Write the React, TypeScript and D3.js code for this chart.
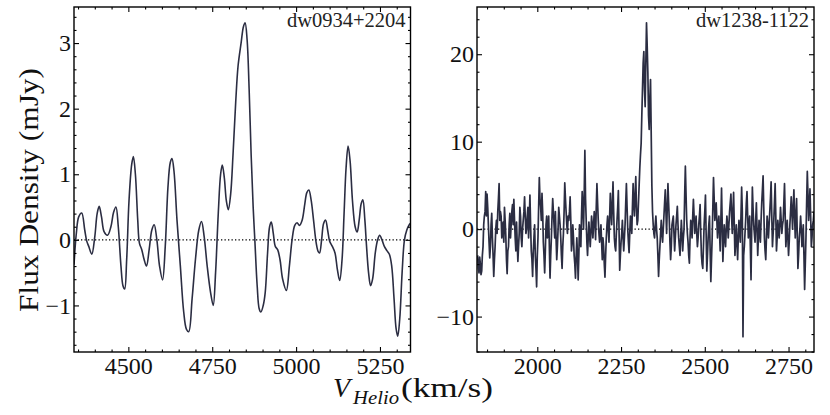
import { useRef, useEffect } from "react";
import * as d3 from "d3";

// dw0934+2204 — smoothed spectrum, [velocity km/s, flux mJy]
const leftSpectrum: [number, number][] = [
  [4338, -0.38], [4345, 0.1], [4352, 0.35], [4361, 0.41], [4370, 0.15], [4376, -0.02],
  [4382, -0.1], [4391, -0.22], [4400, 0.05], [4407, 0.4], [4413, 0.51], [4420, 0.35],
  [4428, 0.12], [4438, 0.07], [4448, 0.2], [4456, 0.42], [4463, 0.5], [4470, 0.2],
  [4478, -0.4], [4484, -0.7], [4489, -0.75], [4495, -0.3], [4502, 0.6], [4510, 1.15],
  [4515, 1.27], [4521, 1.0], [4528, 0.3], [4533, -0.05], [4540, -0.15], [4547, -0.3],
  [4554, -0.4], [4562, -0.15], [4570, 0.15], [4577, 0.23], [4585, 0.0], [4593, -0.4],
  [4602, -0.61], [4610, -0.1], [4618, 0.8], [4625, 1.18], [4630, 1.24], [4636, 1.05],
  [4645, 0.3], [4655, -0.4], [4665, -1.1], [4673, -1.36], [4680, -1.4], [4690, -0.9],
  [4700, -0.3], [4710, 0.15], [4718, 0.28], [4726, 0.05], [4735, -0.4], [4745, -0.8],
  [4753, -1.0], [4760, -0.5], [4768, 0.4], [4775, 1.0], [4780, 1.14], [4786, 0.95],
  [4792, 0.6], [4798, 0.46], [4805, 0.7], [4812, 1.3], [4820, 2.1], [4827, 2.65],
  [4836, 3.0], [4843, 3.25], [4848, 3.31], [4854, 3.05], [4860, 2.3], [4866, 1.3],
  [4872, 0.5], [4877, 0.0], [4884, -0.7], [4890, -1.05], [4895, -1.1], [4902, -1.0],
  [4908, -0.8], [4915, -0.2], [4921, 0.2], [4926, 0.27], [4932, 0.1], [4938, -0.1],
  [4945, -0.15], [4952, -0.3], [4960, -0.6], [4971, -0.77], [4980, -0.4], [4988, 0.0],
  [4996, 0.22], [5003, 0.26], [5010, 0.22], [5018, 0.3], [5026, 0.55], [5032, 0.72],
  [5038, 0.76], [5045, 0.6], [5052, 0.3], [5060, -0.05], [5066, -0.18], [5070, -0.2],
  [5076, 0.0], [5082, 0.25], [5088, 0.3], [5094, 0.15], [5100, -0.02], [5108, -0.1],
  [5116, -0.2], [5123, -0.45], [5130, -0.62], [5137, -0.3], [5143, 0.4], [5149, 1.1],
  [5155, 1.43], [5161, 1.2], [5168, 0.6], [5176, 0.2], [5182, 0.12], [5188, 0.3],
  [5194, 0.55], [5199, 0.61], [5205, 0.3], [5210, -0.1], [5216, -0.5], [5222, -0.7],
  [5228, -0.6], [5236, -0.2], [5243, 0.0], [5249, 0.07], [5256, 0.0], [5263, -0.1],
  [5270, -0.16], [5278, -0.22], [5285, -0.4], [5292, -0.9], [5298, -1.35], [5303, -1.47],
  [5309, -1.2], [5316, -0.5], [5323, 0.0], [5330, 0.15], [5336, 0.22], [5341, 0.25],
];

// dw1238-1122 — raw channels, [velocity km/s, flux mJy]
const rightSpectrum: [number, number][] = [
  [1822, -3.0], [1826, -5.0], [1830, -4.0], [1834, -4.8], [1838, -2.0], [1842, 1.5],
  [1846, 4.3], [1850, 4.0], [1854, 0.5], [1858, -3.3], [1862, 0.5], [1866, -1.0],
  [1870, -5.4], [1874, -2.0], [1878, 1.0], [1882, 2.0], [1886, 5.2], [1890, 2.0],
  [1894, -1.0], [1898, 0.8], [1902, 2.5], [1906, -0.8], [1910, -5.1], [1914, -2.0],
  [1918, 1.8], [1922, 0.5], [1926, 2.8], [1930, 3.4], [1934, -1.0], [1938, 0.8],
  [1942, -3.7], [1946, -0.5], [1950, 1.5], [1954, -2.0], [1958, 1.0], [1962, 3.7],
  [1966, -0.5], [1970, 1.5], [1974, -1.0], [1978, 3.9], [1982, -2.5], [1986, -5.4],
  [1990, -1.0], [1994, -3.0], [1998, -6.6], [2002, -1.0], [2006, 5.9], [2010, 2.5],
  [2014, 4.1], [2018, -1.5], [2022, -5.0], [2026, 0.5], [2030, -1.0], [2034, 1.5],
  [2038, -5.6], [2042, -1.0], [2046, 3.5], [2050, 0.5], [2054, 2.0], [2058, -3.5],
  [2062, 0.0], [2066, 1.5], [2070, -1.0], [2074, -4.5], [2078, -0.5], [2082, 5.3],
  [2086, 2.0], [2090, -0.5], [2094, 1.0], [2098, 3.7], [2102, -2.5], [2106, 0.5],
  [2110, -3.0], [2114, -5.6], [2118, -1.0], [2122, -5.8], [2126, 0.5], [2130, -2.0],
  [2134, 4.3], [2138, 0.0], [2142, 9.0], [2146, 1.0], [2150, -3.0], [2154, 0.8],
  [2158, -2.0], [2162, 1.5], [2166, -1.0], [2170, 2.0], [2174, -1.2], [2178, 5.2],
  [2182, 1.0], [2186, -1.5], [2190, 0.5], [2194, -3.5], [2198, -2.0], [2202, -5.5],
  [2206, -1.0], [2210, 1.5], [2214, -1.5], [2218, 4.1], [2222, 0.5], [2226, 5.4],
  [2230, -1.0], [2234, -2.5], [2238, 1.0], [2242, 4.4], [2246, -4.7], [2250, -1.5],
  [2254, 1.0], [2258, -2.5], [2262, 0.5], [2266, 5.2], [2270, 0.0], [2274, -2.7],
  [2278, 1.5], [2282, -0.5], [2286, 5.2], [2290, 1.5], [2294, 6.0], [2298, 0.5],
  [2302, 3.0], [2306, 7.0], [2310, 9.8], [2314, 16.0], [2318, 20.3], [2322, 14.0],
  [2326, 23.6], [2330, 18.0], [2334, 11.4], [2338, 17.1], [2342, 5.0], [2346, 0.5],
  [2350, -1.0], [2354, 1.5], [2358, -1.0], [2362, -5.4], [2366, -2.0], [2370, 1.0],
  [2374, -1.5], [2378, 1.5], [2382, 4.5], [2386, -0.5], [2390, 5.2], [2394, 1.0],
  [2398, -3.5], [2402, 0.5], [2406, 1.5], [2410, -2.5], [2414, 0.5], [2418, 2.6],
  [2422, -1.0], [2426, -3.0], [2430, 1.0], [2434, -2.5], [2438, 0.0], [2442, 7.2],
  [2446, 1.0], [2450, -1.5], [2454, -3.9], [2458, 1.0], [2462, -1.0], [2466, 3.4],
  [2470, -0.5], [2474, 1.5], [2478, -2.0], [2482, 0.5], [2486, 2.8], [2490, -3.0],
  [2494, -4.5], [2498, 0.5], [2502, 3.9], [2506, -4.8], [2510, -1.0], [2514, 1.5],
  [2518, -6.0], [2522, -1.0], [2526, 5.9], [2530, 1.0], [2534, 3.0], [2538, -1.0],
  [2542, 1.5], [2546, -2.5], [2550, 4.7], [2554, -3.7], [2558, 0.5], [2562, -2.0],
  [2566, 1.5], [2570, -1.0], [2574, 2.0], [2578, 4.0], [2582, -0.5], [2586, 4.2],
  [2590, -3.0], [2594, 0.5], [2598, -3.5], [2602, 1.0], [2606, -1.5], [2610, 4.8],
  [2614, -12.3], [2618, -2.0], [2622, 1.0], [2626, 4.3], [2630, -1.0], [2634, 1.5],
  [2638, -5.8], [2642, 4.8], [2646, 0.5], [2650, -1.5], [2654, 3.0], [2658, -3.0],
  [2662, 1.0], [2666, -1.5], [2670, 3.0], [2674, 6.1], [2678, -1.0], [2682, -3.5],
  [2686, 1.5], [2690, -1.0], [2694, 2.0], [2698, 5.4], [2702, -2.0], [2706, 1.0],
  [2710, 5.2], [2714, -2.5], [2718, 1.0], [2722, -1.0], [2726, 2.5], [2730, -0.5],
  [2734, 1.0], [2738, 5.2], [2742, -2.0], [2746, 1.0], [2750, -3.0], [2754, 0.5],
  [2758, 3.7], [2762, 0.0], [2766, 4.5], [2770, -1.0], [2774, 3.5], [2778, -4.5],
  [2782, -1.0], [2786, 1.5], [2790, -2.0], [2794, 0.5], [2798, -6.9], [2802, -1.0],
  [2806, 6.6], [2810, 1.0], [2814, 4.6], [2818, -2.0], [2822, 0.5], [2826, 2.0],
];

// dw1238-1122 — in-between channels
const rightSpectrumMid: [number, number][] = [
  [1824, -4.5], [1828, -3.2], [1832, -5.2], [1836, -3.0], [1840, 0.5], [1844, 2.0],
  [1848, 1.5], [1852, 2.5], [1856, -1.5], [1860, -2.0], [1864, 1.8], [1868, -3.0],
  [1872, -3.5], [1876, 0.0], [1880, -0.5], [1884, 3.5], [1888, 1.0], [1892, 1.5],
  [1896, 0.0], [1900, -1.5], [1904, 1.0], [1908, -3.5], [1912, -2.5], [1916, 0.5],
  [1920, -1.0], [1924, 2.0], [1928, 0.5], [1932, 1.0], [1936, -2.5], [1940, -1.5],
  [1944, -2.0], [1948, 2.5], [1952, -1.0], [1956, 0.0], [1960, 2.0], [1964, 1.5],
  [1968, 0.0], [1972, 2.5], [1976, 1.0], [1980, 0.5], [1984, -3.5], [1988, -2.5],
  [1992, 0.5], [1996, -4.5], [2000, -3.0], [2004, 2.5], [2008, 3.5], [2012, 1.0],
  [2016, 2.0], [2020, -3.0], [2024, -2.5], [2028, 1.5], [2032, -0.5], [2036, -2.0],
  [2040, -3.0], [2044, 1.5], [2048, 2.0], [2052, -1.0], [2056, -1.0], [2060, -2.0],
  [2064, 2.5], [2068, 0.5], [2072, -3.0], [2076, -2.0], [2080, 2.0], [2084, 3.5],
  [2088, 0.5], [2092, 1.5], [2096, 2.0], [2100, 1.0], [2104, -1.5], [2108, -1.0],
  [2112, -4.0], [2116, -3.0], [2120, -3.0], [2124, -3.0], [2128, -1.0], [2132, 1.5],
  [2136, 2.5], [2140, 4.0], [2144, 3.5], [2148, -1.5], [2152, -1.0], [2156, -0.5],
  [2160, -0.5], [2164, 0.5], [2168, 0.5], [2172, 1.0], [2176, 2.5], [2180, 3.0],
  [2184, -0.5], [2188, -0.5], [2192, -1.5], [2196, -1.0], [2200, -4.0], [2204, -3.0],
  [2208, 0.5], [2212, 0.0], [2216, 1.5], [2220, 2.0], [2224, 3.0], [2228, 2.0],
  [2232, -2.0], [2236, -0.5], [2240, 2.5], [2244, 0.0], [2248, -3.0], [2252, -0.5],
  [2256, -1.0], [2260, -1.0], [2264, 3.0], [2268, 2.5], [2272, -1.5], [2276, -0.5],
  [2280, 1.0], [2284, 2.5], [2288, 3.0], [2292, 4.0], [2296, 2.5], [2300, 1.0],
  [2304, 5.0], [2308, 8.5], [2312, 13.0], [2316, 19.0], [2320, 16.0], [2324, 19.0],
  [2328, 21.0], [2332, 13.0], [2336, 15.0], [2340, 11.0], [2344, 2.0], [2348, -0.5],
  [2352, 0.5], [2356, 0.0], [2360, -3.0], [2364, -3.5], [2368, -0.5], [2372, -0.5],
  [2376, 0.0], [2380, 3.0], [2384, 2.0], [2388, 2.5], [2392, 3.0], [2396, -1.5],
  [2400, -2.0], [2404, 1.0], [2408, -0.5], [2412, -1.0], [2416, 1.5], [2420, 0.5],
  [2424, -2.0], [2428, -1.0], [2432, -0.5], [2436, -1.0], [2440, 4.0], [2444, 4.0],
  [2448, -0.5], [2452, -3.0], [2456, -1.0], [2460, 0.5], [2464, 1.5], [2468, 1.5],
  [2472, 0.5], [2476, -0.5], [2480, -1.0], [2484, 1.5], [2488, -0.5], [2492, -4.0],
  [2496, -2.0], [2500, 2.0], [2504, -0.5], [2508, -3.0], [2512, 0.5], [2516, -2.5],
  [2520, -3.5], [2524, 2.5], [2528, 3.5], [2532, 2.0], [2536, 1.0], [2540, 0.5],
  [2544, -0.5], [2548, 1.0], [2552, 0.5], [2556, -1.5], [2560, -1.0], [2564, 0.0],
  [2568, 0.5], [2572, 0.5], [2576, 3.0], [2580, 1.5], [2584, 2.0], [2588, 0.5],
  [2592, -1.5], [2596, -1.5], [2600, -1.0], [2604, 0.0], [2608, 1.5], [2612, 2.0],
  [2616, -3.0], [2620, -0.5], [2624, 3.0], [2628, 1.5], [2632, 0.5], [2636, -2.0],
  [2640, 0.0], [2644, 2.5], [2648, -0.5], [2652, 1.0], [2656, 0.0], [2660, -1.0],
  [2664, -0.5], [2668, 1.0], [2672, 4.5], [2676, 2.5], [2680, -2.5], [2684, -1.0],
  [2688, 0.5], [2692, 0.5], [2696, 3.5], [2700, 1.5], [2704, -0.5], [2708, 3.0],
  [2712, 1.5], [2716, -1.0], [2720, 0.0], [2724, 0.5], [2728, 1.0], [2732, 0.5],
  [2736, 3.0], [2740, 1.5], [2744, -0.5], [2748, -1.0], [2752, -1.5], [2756, 2.0],
  [2760, 2.0], [2764, 2.5], [2768, 1.5], [2772, 1.5], [2776, -0.5], [2780, -3.0],
  [2784, 0.0], [2788, 0.0], [2792, -1.0], [2796, -3.0], [2800, -4.0], [2804, 3.0],
  [2808, 4.0], [2812, 2.5], [2816, 1.5], [2820, -1.0], [2824, 1.0],
];

const leftXTicks = [4500, 4750, 5000, 5250];
const leftYTicks = [-1, 0, 1, 2, 3];
const rightXTicks = [2000, 2250, 2500, 2750];
const rightYTicks = [-10, 0, 10, 20];

const LINE = "#2b2d42";
const FONT = "'Liberation Serif'";

type Panel = {
  name: string;
  data: [number, number][];
  xDomain: [number, number];
  yDomain: [number, number];
  xTicks: number[];
  yTicks: number[];
  xMinorStep: number;
  yMinorStep: number;
  left: number;
  right: number;
  smooth: boolean;
};

const panels: Panel[] = [
  {
    name: "dw0934+2204",
    data: leftSpectrum,
    xDomain: [4338, 5341],
    yDomain: [-1.71, 3.55],
    xTicks: leftXTicks,
    yTicks: leftYTicks,
    xMinorStep: 50,
    yMinorStep: 0.2,
    left: 74,
    right: 410.5,
    smooth: true,
  },
  {
    name: "dw1238-1122",
    data: [...rightSpectrum, ...rightSpectrumMid].sort((a, b) => a[0] - b[0]),
    xDomain: [1820, 2826],
    yDomain: [-14.05, 25.4],
    xTicks: rightXTicks,
    yTicks: rightYTicks,
    xMinorStep: 50,
    yMinorStep: 2,
    left: 477,
    right: 814,
    smooth: false,
  },
];

const TOP = 7;
const BOTTOM = 352;

export default function App() {
  const svgRef = useRef<SVGSVGElement>(null);

  useEffect(() => {
    const svg = d3.select(svgRef.current);
    svg.selectAll("*").remove();

    panels.forEach((p) => {
      const x = d3.scaleLinear().domain(p.xDomain).range([p.left, p.right]);
      const y = d3.scaleLinear().domain(p.yDomain).range([BOTTOM, TOP]);

      const clipId = `clip-${p.name.replace(/[^a-z0-9]/gi, "")}`;
      svg
        .append("clipPath")
        .attr("id", clipId)
        .append("rect")
        .attr("x", p.left)
        .attr("y", TOP)
        .attr("width", p.right - p.left)
        .attr("height", BOTTOM - TOP);

      // zero line
      svg
        .append("line")
        .attr("x1", p.left)
        .attr("x2", p.right)
        .attr("y1", y(0))
        .attr("y2", y(0))
        .attr("stroke", "#000")
        .attr("stroke-width", 1.2)
        .attr("stroke-dasharray", "1.3,2.2");

      const line = d3
        .line<[number, number]>()
        .x((d) => x(d[0]))
        .y((d) => y(d[1]))
        .curve(p.smooth ? d3.curveCatmullRom.alpha(0.5) : d3.curveLinear);

      svg
        .append("path")
        .datum(p.data)
        .attr("clip-path", `url(#${clipId})`)
        .attr("d", line)
        .attr("fill", "none")
        .attr("stroke", LINE)
        .attr("stroke-width", p.smooth ? 1.6 : 1.7)
        .attr("stroke-linejoin", "round");

      // minor tick positions
      const xMinor = d3
        .range(Math.ceil(p.xDomain[0] / p.xMinorStep) * p.xMinorStep, p.xDomain[1], p.xMinorStep)
        .filter((v) => !p.xTicks.includes(v));
      const yMinor = d3
        .range(Math.ceil(p.yDomain[0] / p.yMinorStep), Math.floor(p.yDomain[1] / p.yMinorStep) + 1)
        .map((k) => +(k * p.yMinorStep).toFixed(3))
        .filter((v) => !p.yTicks.includes(v));

      const put = (axis: d3.Axis<d3.NumberValue>, tx: number, ty: number) => {
        const g = svg.append("g").attr("transform", `translate(${tx},${ty})`).call(axis);
        g.select(".domain").remove();
        g.selectAll("line").attr("stroke", "#000").attr("stroke-width", 1.1);
        g.selectAll("text").style("font-family", FONT).style("font-size", "24px").style("fill", "#111");
      };

      const blank = () => "";
      // inward ticks on all four sides, labels only bottom/left
      put(d3.axisBottom(x).tickValues(p.xTicks).tickSize(-5).tickPadding(5).tickFormat(d3.format("d")), 0, BOTTOM);
      put(d3.axisBottom(x).tickValues(xMinor).tickSize(-2.5).tickFormat(blank), 0, BOTTOM);
      put(d3.axisTop(x).tickValues(p.xTicks).tickSize(-5).tickFormat(blank), 0, TOP);
      put(d3.axisTop(x).tickValues(xMinor).tickSize(-2.5).tickFormat(blank), 0, TOP);
      put(d3.axisLeft(y).tickValues(p.yTicks).tickSize(-5).tickPadding(3).tickFormat(d3.format("d")), p.left, 0);
      put(d3.axisLeft(y).tickValues(yMinor).tickSize(-2.5).tickFormat(blank), p.left, 0);
      put(d3.axisRight(y).tickValues(p.yTicks).tickSize(-5).tickFormat(blank), p.right, 0);
      put(d3.axisRight(y).tickValues(yMinor).tickSize(-2.5).tickFormat(blank), p.right, 0);

      // frame
      svg
        .append("rect")
        .attr("x", p.left)
        .attr("y", TOP)
        .attr("width", p.right - p.left)
        .attr("height", BOTTOM - TOP)
        .attr("fill", "none")
        .attr("stroke", "#000")
        .attr("stroke-width", 1.4);

      // panel name
      svg
        .append("text")
        .attr("x", p.right - 5)
        .attr("y", 27)
        .attr("text-anchor", "end")
        .style("font-family", FONT)
        .style("font-size", "20.5px")
        .style("fill", "#222")
        .text(p.name);
    });

    // y label
    svg
      .append("text")
      .attr("transform", "translate(38,190) rotate(-90)")
      .attr("text-anchor", "middle")
      .attr("textLength", 244)
      .attr("lengthAdjust", "spacingAndGlyphs")
      .style("font-family", FONT)
      .style("font-size", "28px")
      .style("fill", "#111")
      .text("Flux Density (mJy)");

    // x label
    const xl = svg.append("g");
    xl.append("text")
      .attr("x", 333)
      .attr("y", 397)
      .style("font-family", FONT)
      .style("font-size", "28px")
      .style("font-style", "italic")
      .style("fill", "#111")
      .text("V");
    xl.append("text")
      .attr("x", 353)
      .attr("y", 404)
      .attr("textLength", 46)
      .attr("lengthAdjust", "spacingAndGlyphs")
      .style("font-family", FONT)
      .style("font-size", "19px")
      .style("font-style", "italic")
      .style("fill", "#111")
      .text("Helio");
    xl.append("text")
      .attr("x", 401)
      .attr("y", 397)
      .attr("textLength", 92)
      .attr("lengthAdjust", "spacingAndGlyphs")
      .style("font-family", FONT)
      .style("font-size", "28px")
      .style("fill", "#111")
      .text("(km/s)");
  }, []);

  return (
    <svg
      ref={svgRef}
      width={830}
      height={415}
      style={{ position: "absolute", left: 0, top: 0, background: "#fff", display: "block" }}
    />
  );
}
